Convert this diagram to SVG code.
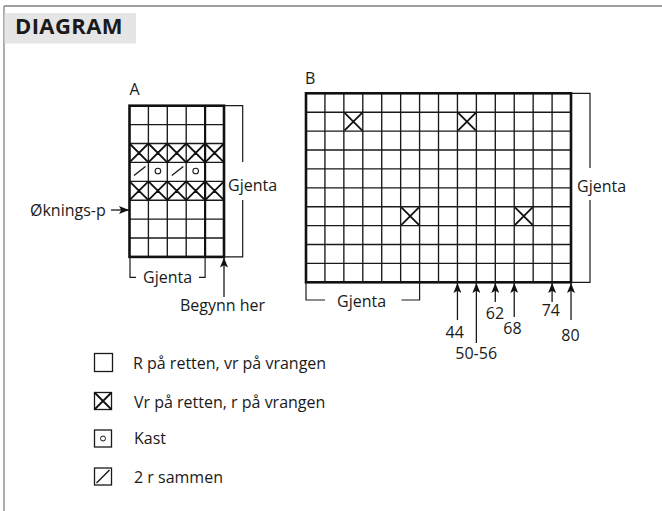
<svg xmlns="http://www.w3.org/2000/svg" width="662" height="511" viewBox="0 0 662 511">
<defs>
<style>
text{font-family:"Open Sans","Noto Sans",sans-serif;font-size:16px;fill:#1a1a1a}
.title{font-weight:bold;font-size:22px;letter-spacing:0.4px}
.thin{fill:none;stroke:#1a1a1a;stroke-width:1.35}
.x{fill:none;stroke:#111;stroke-width:1.8}
.thick{fill:none;stroke:#111;stroke-width:2.6}
.mid{fill:none;stroke:#111;stroke-width:2.2}
.br{fill:none;stroke:#1a1a1a;stroke-width:1.2}
.arr{fill:none;stroke:#1a1a1a;stroke-width:1.3;marker-end:url(#ah)}
.leg{fill:#fff;stroke:#1a1a1a;stroke-width:1.3}
</style>
<marker id="ah" viewBox="0 0 10 8" refX="10" refY="4" markerWidth="10" markerHeight="8" markerUnits="userSpaceOnUse" orient="auto">
<path d="M0,0 L10,4 L0,8 L2.2,4 Z" fill="#111"/>
</marker>
</defs>
<rect width="662" height="511" fill="#fff"/>
<g id="frame">
<path d="M4,6 H662 M4,6 V511" fill="none" stroke="#808080" stroke-width="1.3"/>
<rect x="4.5" y="13" width="131.5" height="30.5" fill="#e5e5e5"/>
<text class="title" x="15" y="34">DIAGRAM</text>
</g>

<g id="chartA">
<text x="129.5" y="95">A</text>
<path class="thin" d="M148.4,105.7V256.9 M167.3,105.7V256.9 M186.2,105.7V256.9 M129.5,124.6H224 M129.5,143.5H224 M129.5,162.4H224 M129.5,181.3H224 M129.5,200.2H224 M129.5,219.1H224 M129.5,238H224"/>
<path class="x" d="M129.5,143.5l18.9,18.9m0,-18.9l-18.9,18.9 M148.4,143.5l18.9,18.9m0,-18.9l-18.9,18.9 M167.3,143.5l18.9,18.9m0,-18.9l-18.9,18.9 M186.2,143.5l18.9,18.9m0,-18.9l-18.9,18.9 M205.1,143.5l18.9,18.9m0,-18.9l-18.9,18.9"/>
<path class="x" d="M129.5,181.3l18.9,18.9m0,-18.9l-18.9,18.9 M148.4,181.3l18.9,18.9m0,-18.9l-18.9,18.9 M167.3,181.3l18.9,18.9m0,-18.9l-18.9,18.9 M186.2,181.3l18.9,18.9m0,-18.9l-18.9,18.9 M205.1,181.3l18.9,18.9m0,-18.9l-18.9,18.9"/>
<path class="thin" d="M134,175.5 L145.5,166.5 M171.8,175.5 L183.3,166.5"/>
<circle cx="157.9" cy="171" r="2.8" fill="none" stroke="#1a1a1a" stroke-width="1.1"/>
<circle cx="195.7" cy="171" r="2.8" fill="none" stroke="#1a1a1a" stroke-width="1.1"/>
<path class="mid" d="M205.1,105.7V256.9"/>
<rect class="thick" x="129.5" y="105.7" width="94.5" height="151.2"/>
</g>

<g id="chartB">
<text x="305" y="84">B</text>
<path class="thin" d="M324.93,93.3V282.3 M343.86,93.3V282.3 M362.79,93.3V282.3 M381.72,93.3V282.3 M400.65,93.3V282.3 M419.58,93.3V282.3 M438.51,93.3V282.3 M457.44,93.3V282.3 M476.37,93.3V282.3 M495.3,93.3V282.3 M514.23,93.3V282.3 M533.16,93.3V282.3 M552.09,93.3V282.3 M306,112.2H571 M306,131.1H571 M306,150H571 M306,168.9H571 M306,187.8H571 M306,206.7H571 M306,225.6H571 M306,244.5H571 M306,263.4H571"/>
<path class="x" d="M344.6,112.9l17.5,17.5m0,-17.5l-17.5,17.5 M458.2,112.9l17.5,17.5m0,-17.5l-17.5,17.5 M401.4,207.4l17.5,17.5m0,-17.5l-17.5,17.5 M515,207.4l17.5,17.5m0,-17.5l-17.5,17.5"/>
<rect class="thick" x="306" y="93.3" width="265" height="189"/>
</g>

<g id="connectors">
<path class="br" d="M224,105.7H242.7V162 M242.7,200V256.9H224"/>
<text x="228" y="191">Gjenta</text>
<path class="br" d="M130,257V277.3H136 M199,277.3H205.1V257"/>
<text x="143" y="282.5">Gjenta</text>
<path class="arr" d="M224,297V257.5"/>
<text x="180" y="311">Begynn her</text>
<path class="arr" d="M111,210H129"/>
<text x="30" y="215.5">Øknings-p</text>
<path class="br" d="M571,93.3H590V168 M590,200V282.3H571"/>
<text x="577" y="191.5">Gjenta</text>
<path class="br" d="M306,283V300H325 M401.5,300H419.6V283"/>
<text x="337" y="306.5">Gjenta</text>
<path class="arr" d="M457.44,320V283"/>
<path class="arr" d="M476.37,343V283"/>
<path class="arr" d="M495.3,302V283"/>
<path class="arr" d="M514.23,317V283"/>
<path class="arr" d="M552.09,302V283"/>
<path class="arr" d="M571.02,320V283"/>
<text x="454.7" y="337.5" text-anchor="middle">44</text>
<text x="476.2" y="358.5" text-anchor="middle">50-56</text>
<text x="495" y="319" text-anchor="middle">62</text>
<text x="512.5" y="334" text-anchor="middle">68</text>
<text x="550.8" y="315.7" text-anchor="middle">74</text>
<text x="570.5" y="340.7" text-anchor="middle">80</text>
</g>

<g id="legend-knit">
<rect class="leg" stroke-width="1" x="94.5" y="353.5" width="18" height="18"/>
<text x="133" y="369">R på retten, vr på vrangen</text>
</g>
<g id="legend-purl">
<rect class="leg" stroke-width="1.6" x="94.5" y="392.5" width="17" height="17"/>
<path class="x" stroke-width="1.6" d="M94.5,392.5l17,17m0,-17l-17,17"/>
<text x="134" y="407.5">Vr på retten, r på vrangen</text>
</g>
<g id="legend-yo">
<rect class="leg" x="94.5" y="430" width="17" height="17"/>
<circle cx="103" cy="438.5" r="2.5" fill="none" stroke="#1a1a1a" stroke-width="1"/>
<text x="134" y="444">Kast</text>
</g>
<g id="legend-k2tog">
<rect class="leg" x="94.5" y="468" width="17" height="17"/>
<path class="thin" stroke-width="1.1" d="M96.5,483 L109.5,470"/>
<text x="134" y="482.5">2 r sammen</text>
</g>
</svg>
